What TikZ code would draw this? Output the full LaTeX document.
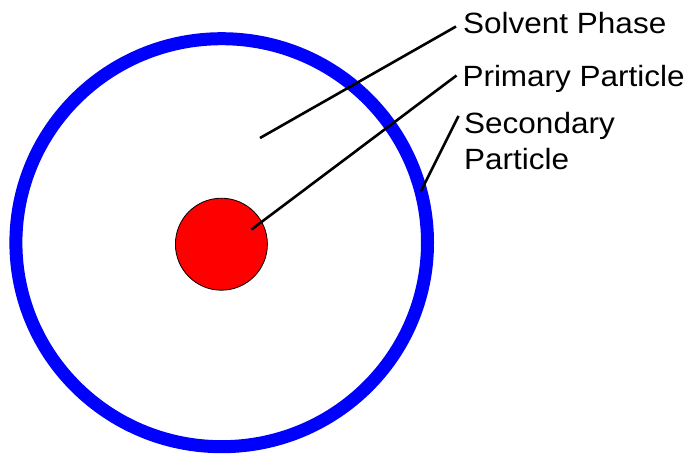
\documentclass[tikz,border=0pt]{standalone}
\usepackage{fontspec}
\usepackage{graphicx}
\usetikzlibrary{calc}
\setmainfont{Liberation Sans}
\tikzset{
  lbl/.style={anchor=base west, inner sep=0pt, font=\fontsize{29.3}{36}\selectfont},
  leader/.style={draw=black, line width=2.6pt},
}
\newcommand{\wide}[1]{\scalebox{1.075}[1]{#1}}
\begin{document}
\begin{tikzpicture}[x=1pt, y=-1pt]
  \useasboundingbox[fill=white] (0,0) rectangle (688,455);
  % secondary particle shell
  \draw[blue, line width=13pt] (221.7,242.7) ellipse [x radius=205.8, y radius=204];
  % primary particle
  \node[circle, fill=red, draw=black, line width=0.8pt, minimum size=92pt, inner sep=0pt] (core) at (221.4,244.2) {};
  % labels
  \node[lbl] (solv) at (463,33.3) {\wide{Solvent Phase}};
  \node[lbl] (prim) at (462.3,86.7) {\wide{Primary Particle}};
  \node[lbl] (sec1) at (464,133.3) {\wide{Secondary}};
  \node[lbl] (sec2) at (464,169.3) {\wide{Particle}};
  % leader end points
  \coordinate (sp) at (260,138);
  \coordinate (pp) at ($(core.center)+(30.1,-14.7)$);
  \coordinate (shell) at (421,191);
  \coordinate (solvend) at ($(solv.base west)+(-7,-6.8)$);
  \coordinate (primend) at ($(prim.base west)+(-5.8,-11.2)$);
  \coordinate (secend) at ($(sec1.base west)+(-5.5,-17.3)$);
  \draw[leader] (sp) -- (solvend);
  \draw[leader] (pp) -- (primend);
  \draw[leader] (shell) -- (secend);
\end{tikzpicture}
\end{document}
